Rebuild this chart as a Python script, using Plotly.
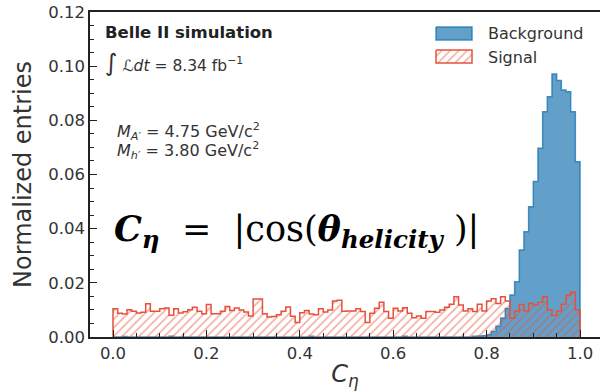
import numpy as np
import plotly.graph_objects as go

# Histogram binning: 100 equal bins on [0, 1]
bin_edges = np.round(np.linspace(0.0, 1.0, 101), 2)

# Normalized entries per bin (sum of bin contents ~ 1)
signal = [
    0.0104, 0.0088, 0.0085, 0.0101, 0.0095, 0.0089, 0.0091, 0.0123, 0.0095, 0.0095,
    0.0104, 0.0107, 0.0080, 0.0104, 0.0089, 0.0093, 0.0101, 0.0110, 0.0095, 0.0086,
    0.0120, 0.0086, 0.0086, 0.0095, 0.0113, 0.0098, 0.0107, 0.0100, 0.0092, 0.0078,
    0.0140, 0.0140, 0.0086, 0.0074, 0.0076, 0.0082, 0.0095, 0.0111, 0.0077, 0.0054,
    0.0090, 0.0098, 0.0085, 0.0082, 0.0104, 0.0092, 0.0100, 0.0133, 0.0136, 0.0095,
    0.0096, 0.0096, 0.0104, 0.0094, 0.0054, 0.0088, 0.0106, 0.0128, 0.0094, 0.0069,
    0.0106, 0.0096, 0.0108, 0.0088, 0.0071, 0.0078, 0.0069, 0.0094, 0.0094, 0.0091,
    0.0100, 0.0110, 0.0121, 0.0149, 0.0118, 0.0096, 0.0104, 0.0094, 0.0121, 0.0096,
    0.0133, 0.0141, 0.0124, 0.0149, 0.0133, 0.0069, 0.0096, 0.0120, 0.0096, 0.0124,
    0.0118, 0.0128, 0.0149, 0.0100, 0.0079, 0.0096, 0.0121, 0.0155, 0.0165, 0.0100,
]

background = [
    0.0000, 0.0000, 0.0002, 0.0000, 0.0000, 0.0000, 0.0000, 0.0000, 0.0000, 0.0000,
    0.0000, 0.0000, 0.0003, 0.0000, 0.0000, 0.0000, 0.0000, 0.0000, 0.0000, 0.0000,
    0.0000, 0.0000, 0.0000, 0.0000, 0.0000, 0.0000, 0.0000, 0.0000, 0.0000, 0.0000,
    0.0000, 0.0000, 0.0000, 0.0000, 0.0000, 0.0000, 0.0000, 0.0000, 0.0000, 0.0000,
    0.0000, 0.0000, 0.0003, 0.0000, 0.0000, 0.0000, 0.0000, 0.0000, 0.0000, 0.0000,
    0.0000, 0.0000, 0.0000, 0.0000, 0.0000, 0.0000, 0.0000, 0.0000, 0.0000, 0.0000,
    0.0000, 0.0000, 0.0003, 0.0000, 0.0000, 0.0000, 0.0000, 0.0000, 0.0000, 0.0000,
    0.0000, 0.0000, 0.0000, 0.0000, 0.0000, 0.0000, 0.0000, 0.0003, 0.0004, 0.0005,
    0.0008, 0.0020, 0.0040, 0.0070, 0.0105, 0.0155, 0.0204, 0.0321, 0.0389, 0.0481,
    0.0574, 0.0697, 0.0832, 0.0887, 0.0971, 0.0947, 0.0912, 0.0906, 0.0832, 0.0647,
]

x_ticks = [0.0, 0.2, 0.4, 0.6, 0.8, 1.0]
y_ticks = [0.00, 0.02, 0.04, 0.06, 0.08, 0.10, 0.12]

BLUE_FILL = "rgba(31,119,180,0.70)"
BLUE_EDGE = "rgba(31,119,180,0.80)"
RED = "#e8503a"
FONT = "DejaVu Sans"
TEXT = "#333333"
HATCH = dict(shape="/", fgcolor=RED, bgcolor="rgba(0,0,0,0)", size=6, solidity=0.25)


def step_outline(edges, vals):
    """Closed step path (hv) of a histogram, starting and ending on the baseline."""
    xs = [edges[0]] + list(edges[:-1]) + [edges[-1], edges[-1]]
    ys = [0.0] + list(vals) + [vals[-1], 0.0]
    return xs, ys


fig = go.Figure()

bx, by = step_outline(bin_edges, background)
fig.add_trace(go.Scatter(
    x=bx, y=by, mode="lines", line_shape="hv",
    line=dict(color=BLUE_EDGE, width=1.5),
    fill="tozeroy", fillcolor=BLUE_FILL,
    name="Background", showlegend=False, hoverinfo="skip",
))

sx, sy = step_outline(bin_edges, signal)
fig.add_trace(go.Scatter(
    x=sx, y=sy, mode="lines", line_shape="hv",
    line=dict(color=RED, width=1.5),
    fill="tozeroy", fillcolor="rgba(0,0,0,0)", fillpattern=HATCH,
    name="Signal", showlegend=False, hoverinfo="skip",
))

# Legend patches, drawn on a pixel-coordinate overlay axis
fig.add_trace(go.Scatter(
    x=[436, 472, 472, 436, 436], y=[27, 27, 40, 40, 27],
    xaxis="x2", yaxis="y2", mode="lines", fill="toself",
    fillcolor=BLUE_FILL, line=dict(color=BLUE_EDGE, width=1.5),
    showlegend=False, hoverinfo="skip",
))
fig.add_trace(go.Scatter(
    x=[436, 472, 472, 436, 436], y=[50, 50, 63, 63, 50],
    xaxis="x2", yaxis="y2", mode="lines", fill="toself",
    fillcolor="rgba(0,0,0,0)", fillpattern=HATCH,
    line=dict(color=RED, width=1.5),
    showlegend=False, hoverinfo="skip",
))

axis_common = dict(
    showline=True, linecolor="#222222", linewidth=1.5,
    ticks="inside", ticklen=7, tickwidth=1.2, tickcolor="#222222",
    showgrid=False, zeroline=False,
    tickfont=dict(family=FONT, size=16.5, color=TEXT),
)

fig.update_layout(
    width=600, height=391,
    margin=dict(l=90, r=0, t=12, b=54),
    paper_bgcolor="white", plot_bgcolor="white",
    xaxis=dict(
        range=[-0.04925, 1.0428], tickvals=x_ticks, tickformat=".1f",
        mirror=True,
        minor=dict(dtick=0.05, tick0=0, ticks="inside", ticklen=4,
                   tickwidth=1, tickcolor="#222222"),
        title=dict(text="<i>C</i><sub><i>η</i></sub>",
                   font=dict(family=FONT, size=24, color=TEXT), standoff=8),
        **axis_common,
    ),
    yaxis=dict(
        range=[0, 0.12], tickvals=y_ticks, tickformat=".2f",
        mirror=False,
        minor=dict(dtick=0.005, tick0=0, ticks="inside", ticklen=4,
                   tickwidth=1, tickcolor="#222222"),
        title=dict(text="Normalized entries",
                   font=dict(family=FONT, size=24, color=TEXT), standoff=10),
        **axis_common,
    ),
    xaxis2=dict(domain=[0, 1], range=[90, 600], anchor="y2", visible=False,
                overlaying="x"),
    yaxis2=dict(domain=[0, 1], range=[337, 12], anchor="x2", visible=False,
                overlaying="y"),
    showlegend=False,
)


def label(x, y, text, size, color=TEXT, family=FONT, xanchor="left"):
    fig.add_annotation(x=x, y=y, xref="x2", yref="y2", text=text,
                       showarrow=False, xanchor=xanchor, yanchor="middle",
                       font=dict(family=family, size=size, color=color))


label(103, 32, "<b>Belle II simulation</b>", 16.5, color="#222222")
label(103, 63, "<span style='font-size:24px'>∫</span> <i>ℒdt</i> = 8.34 fb<sup>−1</sup>", 15.5)
label(115, 131, "<i>M</i><sub><i>A′</i></sub> = 4.75 GeV/c<sup>2</sup>", 16)
label(115, 150, "<i>M</i><sub><i>h′</i></sub> = 3.80 GeV/c<sup>2</sup>", 16)
label(486, 33, "Background", 16)
label(486, 57, "Signal", 16)

label(112, 231,
      "<b><i>C</i></b><sub><b><i>η</i></b></sub>\u00a0\u00a0=\u00a0\u00a0|cos(<b><i>θ</i></b>"
      "<sub><b><i>helicity</i></b></sub>\u00a0)|",
      35, color="#000000", family="DejaVu Serif")

fig.write_html("out.html")
